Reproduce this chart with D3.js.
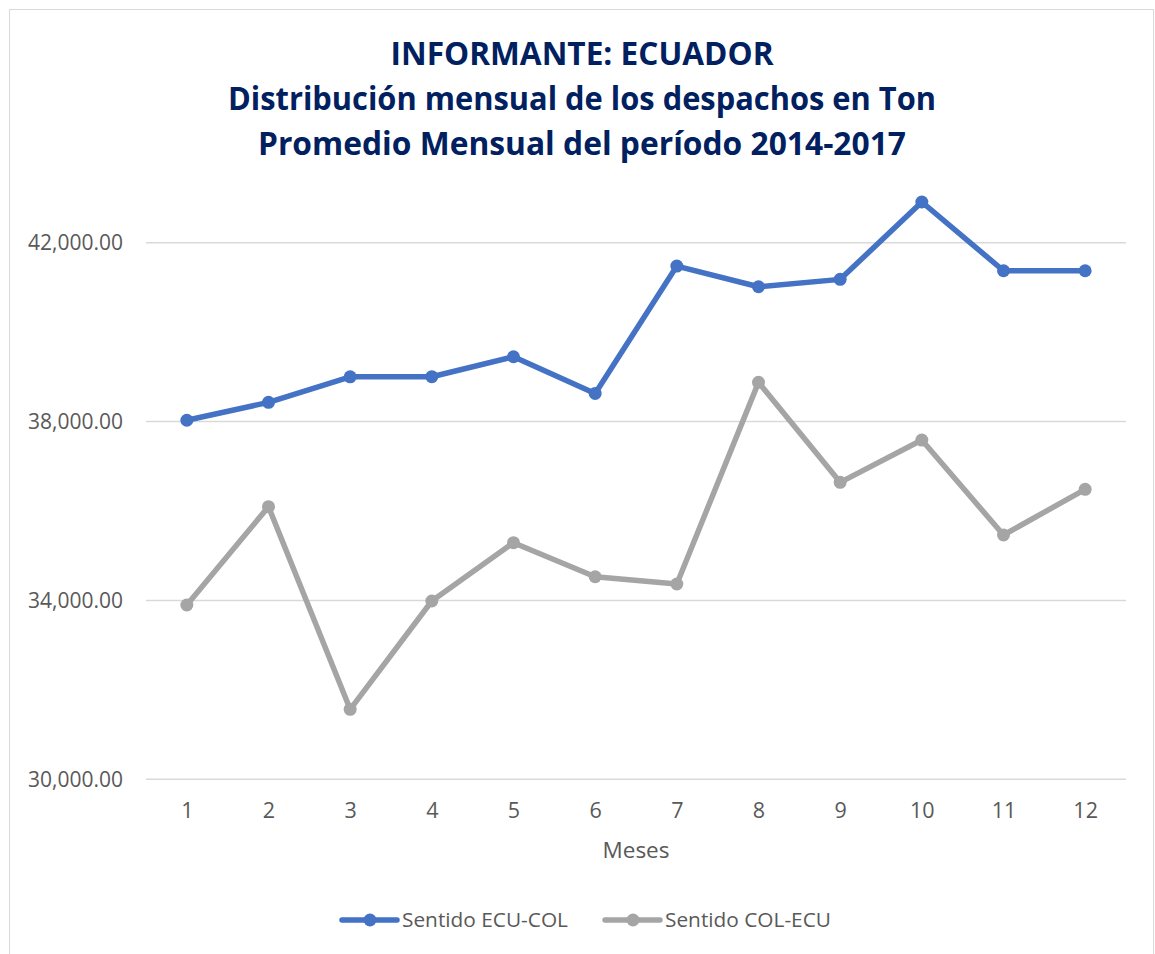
<!DOCTYPE html>
<html>
<head>
<meta charset="utf-8">
<script src="https://cdn.jsdelivr.net/npm/d3@7"></script>
<style>
  html, body { margin: 0; padding: 0; background: #fff; }
  svg { display: block; }
</style>
</head>
<body>
<svg id="chart" width="1155" height="954"></svg>
<script>
// Months on the category axis
const meses = ["1","2","3","4","5","6","7","8","9","10","11","12"];
// Monthly average dispatches (tons), 2014-2017
const ecuCol = [38030, 38430, 39000, 39003, 39450, 38630, 41478, 41015, 41180, 42910, 41373, 41373];
const colEcu = [33898, 36096, 31565, 33987, 35291, 34530, 34367, 38877, 36641, 37587, 35463, 36485];
const yTicks = [30000, 34000, 38000, 42000];
const titleLines = [
  "INFORMANTE: ECUADOR",
  "Distribución mensual de los despachos en Ton",
  "Promedio Mensual del período 2014-2017"
];
const seriesNames = ["Sentido ECU-COL", "Sentido COL-ECU"];
const seriesColors = ["#4472C4", "#A5A5A5"];

const svg = d3.select("#chart");
const FONT = "'Open Sans', 'Noto Sans', sans-serif";

// chart frame
svg.append("rect")
  .attr("x", 9.5).attr("y", 9.5)
  .attr("width", 1144).attr("height", 960)
  .attr("fill", "#fff").attr("stroke", "#d9d9d9").attr("stroke-width", 1);

// title
const titleBase = [65, 110, 155];
const titleWidth = [383, 708, 648];
svg.append("g").selectAll("text").data(titleLines).join("text")
  .attr("x", 582).attr("y", (d, i) => titleBase[i])
  .attr("text-anchor", "middle")
  .attr("font-family", FONT).attr("font-weight", 700)
  .attr("font-size", 32).attr("fill", "#002060")
  .attr("textLength", (d, i) => titleWidth[i])
  .attr("lengthAdjust", "spacingAndGlyphs")
  .text(d => d);

// scales
const x = d3.scalePoint().domain(meses).range([146, 1126]).padding(0.5);
const y = d3.scaleLinear().domain([30000, 42000]).range([779.3, 242.7]);

// gridlines
svg.append("g").selectAll("line").data(yTicks).join("line")
  .attr("x1", 146).attr("x2", 1126)
  .attr("y1", d => y(d)).attr("y2", d => y(d))
  .attr("stroke", "#d9d9d9").attr("stroke-width", 1.5);

// y axis labels
const yAxis = svg.append("g")
  .attr("transform", "translate(123,0)")
  .call(d3.axisLeft(y).tickValues(yTicks).tickSize(0).tickPadding(0)
    .tickFormat(d3.format(",.2f")));
yAxis.select(".domain").remove();
yAxis.selectAll("text")
  .attr("font-family", FONT).attr("font-size", 21).attr("fill", "#595959");

// x axis labels
const xAxis = svg.append("g")
  .attr("transform", "translate(0,803)")
  .call(d3.axisBottom(x).tickSize(0).tickPadding(0));
xAxis.select(".domain").remove();
xAxis.selectAll("text")
  .attr("font-family", FONT).attr("font-size", 21.5).attr("fill", "#595959");

// x axis title
svg.append("text")
  .attr("x", 636).attr("y", 858)
  .attr("text-anchor", "middle")
  .attr("font-family", FONT).attr("font-size", 22.5).attr("fill", "#595959")
  .text("Meses");

// series
const series = [ecuCol, colEcu];
const line = d3.line().x((d, i) => x(meses[i])).y(d => y(d));
// draw gray first so blue sits on top
[1, 0].forEach(s => {
  const g = svg.append("g");
  g.append("path")
    .datum(series[s])
    .attr("d", line)
    .attr("fill", "none")
    .attr("stroke", seriesColors[s])
    .attr("stroke-width", 5.5)
    .attr("stroke-linejoin", "round")
    .attr("stroke-linecap", "round");
  g.selectAll("circle").data(series[s]).join("circle")
    .attr("cx", (d, i) => x(meses[i]))
    .attr("cy", d => y(d))
    .attr("r", 6.5)
    .attr("fill", seriesColors[s]);
});

// legend
const legendItems = [
  { name: seriesNames[0], color: seriesColors[0], x0: 342 },
  { name: seriesNames[1], color: seriesColors[1], x0: 605 }
];
const lg = svg.append("g");
legendItems.forEach(it => {
  lg.append("line")
    .attr("x1", it.x0).attr("x2", it.x0 + 55)
    .attr("y1", 920).attr("y2", 920)
    .attr("stroke", it.color).attr("stroke-width", 5.5)
    .attr("stroke-linecap", "round");
  lg.append("circle")
    .attr("cx", it.x0 + 28).attr("cy", 920).attr("r", 6.5)
    .attr("fill", it.color);
  lg.append("text")
    .attr("x", it.x0 + 60).attr("y", 927)
    .attr("font-family", FONT).attr("font-size", 20.5).attr("fill", "#595959")
    .attr("textLength", 166).attr("lengthAdjust", "spacingAndGlyphs")
    .text(it.name);
});
</script>
</body>
</html>
